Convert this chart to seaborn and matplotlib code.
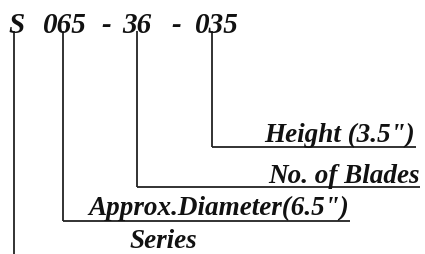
import matplotlib
matplotlib.use("Agg")
import matplotlib.pyplot as plt
import seaborn as sns

sns.set_style("white")
plt.rcParams['font.family'] = ['Liberation Serif', 'DejaVu Serif']

code_parts = ["S", "065", "-", "36", "-", "035"]
code_x = [8, 43, 101, 122, 171, 195]
labels = ["Height (3.5\")", "No. of Blades", "Approx.Diameter(6.5\")", "Series"]
leader_x = [212, 137, 63, 14]
leader_y = [147, 187, 221, 254]
line_end_x = [416, 420, 350, None]
label_right = [415, 420, 349, 197]
label_base = [142, 183, 215, 248]

fig = plt.figure(figsize=(4.25, 2.54), dpi=100)
ax = fig.add_axes([0, 0, 1, 1])
ax.set_xlim(0, 425)
ax.set_ylim(254, 0)
ax.axis("off")

for t, x in zip(code_parts, code_x):
    ax.text(x, 33, t, fontsize=21, fontweight="bold", fontstyle="italic",
            ha="left", va="baseline", color="#111111")

lc = "#222222"
for i in range(4):
    ax.plot([leader_x[i], leader_x[i]], [31, leader_y[i]], color=lc, lw=1.3,
            solid_capstyle="butt")
    if line_end_x[i] is not None:
        ax.plot([leader_x[i], line_end_x[i]], [leader_y[i], leader_y[i]],
                color=lc, lw=1.3, solid_capstyle="butt")
    ax.text(label_right[i], label_base[i], labels[i], fontsize=19.5,
            fontweight="bold", fontstyle="italic", ha="right", va="baseline",
            color="#111111")

fig.savefig("out.png", dpi=100, facecolor="white")
